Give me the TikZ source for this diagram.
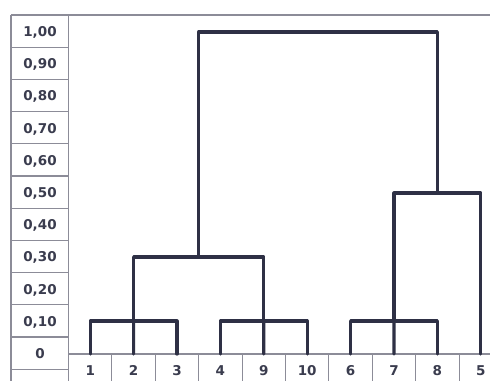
\documentclass[tikz,border=0pt]{standalone}
\usepackage{fontspec}
\setmainfont{DejaVu Sans}
\definecolor{gridc}{HTML}{8C8C98}
\definecolor{dendc}{HTML}{2E3045}
\definecolor{txtc}{HTML}{3A3C4E}
\begin{document}
\begin{tikzpicture}[x=1pt,y=-1pt,
  grid/.style={draw=gridc,line width=1.1pt},
  dend/.style={draw=dendc,line width=3.2pt,line join=round,line cap=round},
  lbl/.style={text=txtc,font=\bfseries\fontsize{13.5}{14}\selectfont,inner sep=0pt,anchor=base}]
\useasboundingbox (0,0) rectangle (490,381);
\fill[white] (0,0) rectangle (490,381);
% left value column
\draw[grid] (11,15) -- (490,15);
\draw[grid] (11,15) -- (11,381);
\draw[grid] (68.5,15) -- (68.5,381);
\foreach \k in {1,...,11} \draw[grid] (11,15+32.2*\k) -- (68.5,15+32.2*\k);
\node[lbl] (v100) at (40,36.4) {1,00};
\node[lbl] (v090) at (40,68.6) {0,90};
\node[lbl] (v080) at (40,100.8) {0,80};
\node[lbl] (v070) at (40,133.0) {0,70};
\node[lbl] (v060) at (40,165.2) {0,60};
\node[lbl] (v050) at (40,197.4) {0,50};
\node[lbl] (v040) at (40,229.6) {0,40};
\node[lbl] (v030) at (40,261.8) {0,30};
\node[lbl] (v020) at (40,294.0) {0,20};
\node[lbl] (v010) at (40,326.2) {0,10};
\node[lbl] (v000) at (40,358.4) {0};
% bottom leaf row
\draw[grid] (68.5,354) -- (490,354);
\foreach \j in {1,...,9} \draw[grid] (68.5+43.4*\j,354) -- (68.5+43.4*\j,381);
\foreach \n [count=\j from 0] in {1,2,3,4,9,10,6,7,8,5} {
  \node[lbl] (t\n) at (90.2+43.4*\j,375) {\n};
  \coordinate (l\n) at (90.2+43.4*\j,354);
}
% junctions
\coordinate (a) at (133.6,321);
\coordinate (b) at (263.8,321);
\coordinate (c) at (394,321);
\coordinate (d) at (198.7,257);
\coordinate (e) at (437.4,193);
\coordinate (r) at (318,32);
% dendrogram
\draw[dend] (l1) |- (a) -| (l3);
\draw[dend] (l2) -- (a);
\draw[dend] (l4) |- (b) -| (l10);
\draw[dend] (l9) -- (b);
\draw[dend] (l6) |- (c) -| (l8);
\draw[dend] (l7) -- (c);
\draw[dend] (a) |- (d) -| (b);
\draw[dend] (c) |- (e) -| (l5);
\draw[dend] (d) |- (r) -| (e);
\end{tikzpicture}
\end{document}
